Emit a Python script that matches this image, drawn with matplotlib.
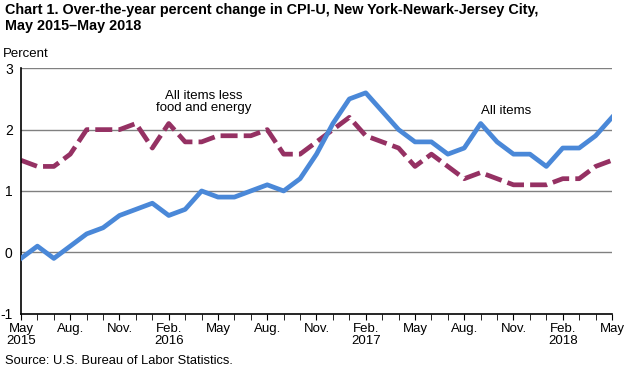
import numpy as np
import matplotlib
matplotlib.use('Agg')
import matplotlib.pyplot as plt

plt.rcParams['font.family'] = ['Liberation Sans', 'DejaVu Sans']

months = np.arange(37)
all_items = [-0.1, 0.1, -0.1, 0.1, 0.3, 0.4, 0.6, 0.7, 0.8, 0.6, 0.7, 1.0, 0.9,
             0.9, 1.0, 1.1, 1.0, 1.2, 1.6, 2.1, 2.5, 2.6, 2.3, 2.0, 1.8,
             1.8, 1.6, 1.7, 2.1, 1.8, 1.6, 1.6, 1.4, 1.7, 1.7, 1.9, 2.2]
core = [1.5, 1.4, 1.4, 1.6, 2.0, 2.0, 2.0, 2.1, 1.7, 2.1, 1.8, 1.8, 1.9,
        1.9, 1.9, 2.0, 1.6, 1.6, 1.8, 2.0, 2.2, 1.9, 1.8, 1.7, 1.4,
        1.6, 1.4, 1.2, 1.3, 1.2, 1.1, 1.1, 1.1, 1.2, 1.2, 1.4, 1.5]
tick_labels = ['May\n2015', 'Aug.', 'Nov.', 'Feb.\n2016', 'May', 'Aug.', 'Nov.',
               'Feb.\n2017', 'May', 'Aug.', 'Nov.', 'Feb.\n2018', 'May']

fig = plt.figure(figsize=(6.32, 3.71), dpi=100)
ax = fig.add_axes([21/632, 1-313.6/371, (612-21)/632, (313.6-68.3)/371])

for y in [0, 1, 2, 3]:
    ax.axhline(y, color='#808080', lw=1, zorder=1)

ax.plot(months, all_items, color='#4a88d8', lw=3.4, zorder=3)
ax.plot(months, core, color='#953163', lw=3.4, ls=(0, (3.6, 1.3)), zorder=2)

ax.set_xlim(0, 36)
ax.set_ylim(-1, 3)
ax.set_yticks([-1, 0, 1, 2, 3])
ax.set_yticklabels(['-1', '0', '1', '2', '3'])
ax.set_xticks(months, minor=True)
ax.set_xticks(months[::3])
ax.set_xticklabels(tick_labels, linespacing=0.95)
ax.tick_params(axis='x', which='both', direction='out', length=4, color='black', labelsize=9.5, pad=3)
ax.tick_params(axis='y', length=0, labelsize=10, pad=6)
for s in ['top', 'right']:
    ax.spines[s].set_visible(False)
ax.spines['left'].set_linewidth(1.2)
ax.spines['bottom'].set_linewidth(1.2)

ax.text(11.15, 2.25, 'All items less\nfood and energy', ha='center', va='bottom', fontsize=9.5, linespacing=1.0)
ax.text(28.0, 2.2, 'All items', ha='left', va='bottom', fontsize=9.5)

fig.text(5/632, 1-3/371, 'Chart 1. Over-the-year percent change in CPI-U, New York-Newark-Jersey City,\nMay 2015\u2013May 2018',
         ha='left', va='top', fontsize=10.4, fontweight='bold', linespacing=1.15)
fig.text(3/632, 1-48/371, 'Percent', ha='left', va='top', fontsize=9.5)
fig.text(5/632, 1-355/371, 'Source: U.S. Bureau of Labor Statistics.', ha='left', va='top', fontsize=9.3)

fig.savefig('out.png', dpi=100)
